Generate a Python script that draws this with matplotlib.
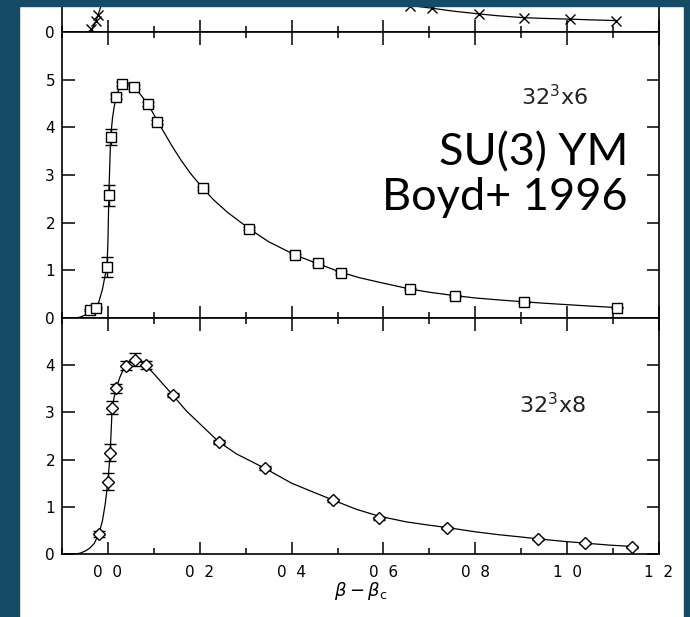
import numpy as np
import matplotlib
matplotlib.use("Agg")
import matplotlib.pyplot as plt
from matplotlib.patches import Rectangle

# 32^3 x 6 (middle panel), squares
x6 = [-0.04, -0.025, -0.002, 0.002, 0.006, 0.018, 0.031, 0.056, 0.087, 0.107,
      0.207, 0.308, 0.408, 0.457, 0.507, 0.657, 0.755, 0.906, 1.108]
y6 = [0.17, 0.21, 1.07, 2.57, 3.80, 4.64, 4.91, 4.85, 4.49, 4.12,
      2.72, 1.87, 1.32, 1.15, 0.95, 0.61, 0.46, 0.34, 0.22]
e6 = [0.02, 0.02, 0.22, 0.23, 0.17, 0.05, 0.04, 0.04, 0.04, 0.04,
      0.03, 0.03, 0.03, 0.03, 0.03, 0.02, 0.02, 0.02, 0.02]
curve6_x = [-0.07, -0.06, -0.05, -0.04, -0.03, -0.02, -0.012, -0.006, -0.002, 0.0,
            0.002, 0.004, 0.006, 0.01, 0.014, 0.018, 0.024, 0.031, 0.04, 0.048,
            0.056, 0.07, 0.087, 0.107, 0.12, 0.14, 0.16, 0.18, 0.207, 0.23,
            0.26, 0.308, 0.35, 0.408, 0.457, 0.507, 0.55, 0.60, 0.657, 0.70,
            0.755, 0.80, 0.85, 0.906, 0.95, 1.00, 1.05, 1.108]
curve6_y = [0.0, 0.02, 0.06, 0.12, 0.2, 0.33, 0.6, 0.9, 1.07, 1.6,
            2.57, 3.2, 3.8, 4.2, 4.45, 4.64, 4.8, 4.9, 4.93, 4.9,
            4.85, 4.7, 4.49, 4.15, 3.93, 3.6, 3.3, 3.03, 2.72, 2.48,
            2.22, 1.87, 1.6, 1.32, 1.14, 0.96, 0.84, 0.73, 0.61, 0.54,
            0.47, 0.42, 0.38, 0.34, 0.31, 0.28, 0.25, 0.22]

# 32^3 x 8 (bottom panel), diamonds
x8 = [-0.02, 0.0, 0.005, 0.009, 0.018, 0.039, 0.060, 0.082, 0.141, 0.241,
      0.341, 0.491, 0.591, 0.739, 0.937, 1.039, 1.141]
y8 = [0.42, 1.53, 2.15, 3.10, 3.51, 3.99, 4.12, 4.00, 3.37, 2.37,
      1.82, 1.14, 0.76, 0.56, 0.32, 0.23, 0.155]
e8 = [0.06, 0.18, 0.18, 0.14, 0.1, 0.1, 0.13, 0.08, 0.05, 0.04,
      0.04, 0.03, 0.03, 0.02, 0.02, 0.02, 0.02]
curve8_x = [-0.085, -0.07, -0.06, -0.05, -0.04, -0.03, -0.02, -0.012, -0.006, 0.0,
            0.003, 0.005, 0.007, 0.009, 0.013, 0.018, 0.025, 0.032, 0.039, 0.05,
            0.06, 0.07, 0.082, 0.10, 0.12, 0.141, 0.17, 0.20, 0.241, 0.28,
            0.341, 0.40, 0.45, 0.491, 0.54, 0.591, 0.65, 0.70, 0.739, 0.80,
            0.85, 0.90, 0.937, 0.99, 1.039, 1.09, 1.141]
curve8_y = [0.0, 0.0, 0.02, 0.06, 0.12, 0.22, 0.42, 0.7, 1.05, 1.53,
            1.9, 2.15, 2.6, 3.05, 3.3, 3.5, 3.72, 3.88, 3.98, 4.07,
            4.1, 4.08, 4.0, 3.82, 3.6, 3.37, 3.04, 2.76, 2.38, 2.12,
            1.82, 1.5, 1.3, 1.14, 0.95, 0.8, 0.68, 0.61, 0.56, 0.47,
            0.41, 0.36, 0.32, 0.27, 0.23, 0.19, 0.16]

# top panel (mostly cut off), crosses
x4 = [-0.036, -0.027, -0.021, 0.658, 0.705, 0.807, 0.906, 1.006, 1.106]
y4 = [0.07, 0.23, 0.36, 0.55, 0.50, 0.38, 0.29, 0.27, 0.24]
curve4a_x = [-0.045, -0.04, -0.035, -0.03, -0.025, -0.02, -0.015, -0.01, -0.005]
curve4a_y = [0.0, 0.02, 0.07, 0.15, 0.26, 0.4, 0.55, 0.75, 1.0]
curve4b_x = [0.60, 0.63, 0.658, 0.68, 0.705, 0.75, 0.807, 0.85, 0.906, 0.95, 1.006, 1.05, 1.106]
curve4b_y = [0.7, 0.62, 0.56, 0.53, 0.50, 0.44, 0.38, 0.34, 0.30, 0.285, 0.27, 0.255, 0.24]

xticks = [0.0, 0.2, 0.4, 0.6, 0.8, 1.0, 1.2]
xticklabels = ["0  0", "0  2", "0  4", "0  6", "0  8", "1  0", "1  2"]

teal = "#164b65"
W, H = 690, 617
fig = plt.figure(figsize=(6.9, 6.17), dpi=100)
plt.rcParams['mathtext.fontset'] = 'dejavusans'


def px_axes(left, right, top, bottom):
    return fig.add_axes([left / W, 1 - bottom / H, (right - left) / W, (bottom - top) / H])


def style(ax, ymax, yt):
    ax.set_xlim(-0.1, 1.2)
    ax.set_ylim(0, ymax)
    ax.set_xticks(xticks)
    ax.set_xticks(np.arange(-0.1, 1.21, 0.1), minor=True)
    ax.set_yticks(yt)
    ax.tick_params(which="both", direction="in", top=True, right=True,
                   labelsize=11, pad=5, width=1.1)
    ax.tick_params(which="major", length=9)
    ax.tick_params(which="minor", length=4)
    ax.tick_params(axis="y", which="minor", left=False, right=False)
    for s in ax.spines.values():
        s.set_linewidth(1.2)


ax_top = px_axes(62, 659, 32 - 286, 32)
ax_mid = px_axes(62, 659, 32, 318)
ax_bot = px_axes(62, 659, 318, 554)

style(ax_top, 6, [0])
style(ax_mid, 6, [0, 1, 2, 3, 4, 5])
style(ax_bot, 5, [0, 1, 2, 3, 4])
for ax in (ax_top, ax_mid):
    ax.set_xticklabels([])

ax_bot.set_xticklabels(xticklabels)
ax_bot.tick_params(axis="x", pad=8)
ax_bot.set_xlabel(r"$\beta - \beta_{\rm c}$", fontsize=13, labelpad=0)

# top
ax_top.plot(curve4a_x, curve4a_y, color="black", lw=0.9)
ax_top.plot(curve4b_x, curve4b_y, color="black", lw=0.9)
ax_top.plot(x4, y4, "x", color="black", ms=7, mew=1.0)

# middle
ax_mid.plot(curve6_x, curve6_y, color="black", lw=0.9)
ax_mid.errorbar(x6, y6, yerr=e6, fmt="s", color="black", mfc="white", mec="black",
                ms=7.5, mew=1.0, capsize=4, elinewidth=1.0, capthick=1.0)
ax_mid.text(0.881, 0.773, "32$^3$x6", transform=ax_mid.transAxes, ha="right",
            va="center", fontsize=16, color="#222222")

# bottom
ax_bot.plot(curve8_x, curve8_y, color="black", lw=0.9)
ax_bot.errorbar(x8, y8, yerr=e8, fmt="D", color="black", mfc="white", mec="black",
                ms=6.5, mew=1.0, capsize=4, elinewidth=1.0, capthick=1.0)
ax_bot.text(0.878, 0.631, "32$^3$x8", transform=ax_bot.transAxes, ha="right",
            va="center", fontsize=16, color="#222222")

# big annotation
fig.text(628 / W, 1 - 165 / H, "SU(3) YM", ha="right", va="baseline",
         fontsize=32.5, family="Lato")
fig.text(628 / W, 1 - 210 / H, "Boyd+ 1996", ha="right", va="baseline",
         fontsize=32.5, family="Lato")

# slide background strips
fig.add_artist(Rectangle((0, 0), 19 / W, 1, transform=fig.transFigure,
                         color=teal, zorder=10))
fig.add_artist(Rectangle((684 / W, 0), 6 / W, 1, transform=fig.transFigure,
                         color=teal, zorder=10))
fig.add_artist(Rectangle((0, 1 - 6 / H), 1, 6 / H, transform=fig.transFigure,
                         color=teal, zorder=10))

fig.savefig("out.png", dpi=100)
